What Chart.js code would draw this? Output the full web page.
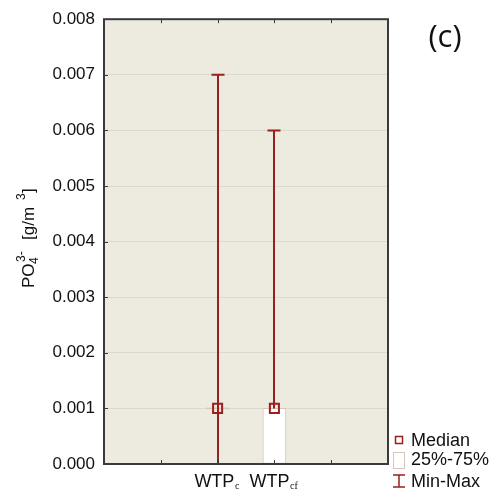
<!DOCTYPE html>
<html>
<head>
<meta charset="utf-8">
<script src="https://cdn.jsdelivr.net/npm/chart.js@4.4.1/dist/chart.umd.min.js"></script>
<style>
  html, body { margin: 0; padding: 0; background: #ffffff; }
  #wrap { width: 496px; height: 494px; }
</style>
</head>
<body>
<div id="wrap"><canvas id="boxChart"></canvas></div>
<script>
// Data
const categories = ['WTPc', 'WTPcf'];
const labelBase = ['WTP', 'WTP'];
const labelSub = ['c', 'cf'];
const positions = [2, 3];            // slot on the x axis (0..5)
const minValues = [0.000, 0.000];
const q1Values = [0.001, 0.000];
const medianValues = [0.001, 0.001];
const q3Values = [0.001, 0.001];
const maxValues = [0.007, 0.006];
const yTicks = [0, 0.001, 0.002, 0.003, 0.004, 0.005, 0.006, 0.007, 0.008];

const darkRed = '#9a1f1f';
const boxEdge = '#dcc3bb';
const panelBg = '#edeadf';
const sans = '"Liberation Sans", Arial, sans-serif';

// Draws plot background, whiskers, frame, ticks, labels and legend
const decorations = {
    id: 'decorations',
    beforeDraw(chart) {
        const { ctx, chartArea: a } = chart;
        ctx.save();
        ctx.fillStyle = panelBg;
        ctx.fillRect(a.left, a.top, a.right - a.left, a.bottom - a.top);
        ctx.restore();
    },
    afterDatasetDraw(chart, args) {
        if (args.index !== 1) return; // after the boxes, before the medians
        const { ctx } = chart;
        const x = chart.scales.x, y = chart.scales.y;
        ctx.save();
        positions.forEach((p, i) => {
            const px = Math.round(x.getPixelForValue(p));
            // flat box (q1 == q3) shows as a line
            if (q1Values[i] === q3Values[i]) {
                ctx.strokeStyle = boxEdge;
                ctx.lineWidth = 1.5;
                ctx.beginPath();
                ctx.moveTo(px - 12, y.getPixelForValue(q1Values[i]));
                ctx.lineTo(px + 12, y.getPixelForValue(q1Values[i]));
                ctx.stroke();
            }
            ctx.strokeStyle = darkRed;
            ctx.lineWidth = 2;
            ctx.beginPath();
            ctx.moveTo(px, y.getPixelForValue(q3Values[i]));
            ctx.lineTo(px, y.getPixelForValue(maxValues[i]));
            if (minValues[i] < q1Values[i]) {
                ctx.moveTo(px, y.getPixelForValue(q1Values[i]));
                ctx.lineTo(px, y.getPixelForValue(minValues[i]));
            }
            ctx.stroke();
            // caps
            ctx.beginPath();
            ctx.moveTo(px - 6.5, y.getPixelForValue(maxValues[i]));
            ctx.lineTo(px + 6.5, y.getPixelForValue(maxValues[i]));
            ctx.moveTo(px - 6.5, y.getPixelForValue(minValues[i]));
            ctx.lineTo(px + 6.5, y.getPixelForValue(minValues[i]));
            ctx.stroke();
        });
        ctx.restore();
    },
    afterDraw(chart) {
        const { ctx, chartArea: a } = chart;
        const x = chart.scales.x, y = chart.scales.y;
        ctx.save();
        // frame
        ctx.strokeStyle = '#3a3a3a';
        ctx.lineWidth = 2;
        ctx.strokeRect(a.left, a.top, a.right - a.left, a.bottom - a.top);
        // inward ticks
        ctx.lineWidth = 1;
        ctx.beginPath();
        yTicks.forEach(v => {
            const py = Math.round(y.getPixelForValue(v)) + 0.5;
            ctx.moveTo(a.left, py);
            ctx.lineTo(a.left + 4, py);
        });
        [1, 2, 3, 4].forEach(v => {
            const px = Math.round(x.getPixelForValue(v)) + 0.5;
            ctx.moveTo(px, a.top);
            ctx.lineTo(px, a.top + 4);
            ctx.moveTo(px, a.bottom);
            ctx.lineTo(px, a.bottom - 4);
        });
        ctx.stroke();

        // x category labels with subscripts
        ctx.fillStyle = '#111';
        ctx.textBaseline = 'alphabetic';
        ctx.textAlign = 'left';
        const subFont = '10px "Liberation Serif", "Times New Roman", serif';
        positions.forEach((p, i) => {
            const px = x.getPixelForValue(p);
            ctx.font = '18px ' + sans;
            const wb = ctx.measureText(labelBase[i]).width;
            ctx.font = subFont;
            const ws = ctx.measureText(labelSub[i]).width;
            const x0 = px - (wb + ws) / 2 - 1;
            ctx.font = '18px ' + sans;
            ctx.fillText(labelBase[i], x0, 487);
            ctx.font = subFont;
            ctx.fillText(labelSub[i], x0 + wb + 0.5, 489);
        });

        // y axis title, rotated: PO4^3- [g/m^3]; offsets measured along the text
        const parts = [
            { t: 'PO', f: '17px', at: 0, dy: 0 },
            { t: '4', f: '12px', at: 24, dy: 4 },
            { t: '3-', f: '12px', at: 26, dy: -9 },
            { t: '[g/m', f: '17px', at: 48, dy: 0 },
            { t: '3', f: '12px', at: 88, dy: -9 },
            { t: ']', f: '17px', at: 95, dy: 0 }
        ];
        ctx.translate(34, 288);
        ctx.rotate(-Math.PI / 2);
        parts.forEach(pt => {
            ctx.font = pt.f + ' ' + sans;
            ctx.fillText(pt.t, pt.at, pt.dy);
        });
        ctx.setTransform(1, 0, 0, 1, 0, 0);

        // legend
        ctx.font = '18px ' + sans;
        ctx.textBaseline = 'middle';
        ctx.fillStyle = '#111';
        ctx.strokeStyle = darkRed;
        ctx.lineWidth = 1.5;
        ctx.strokeRect(395.5, 436.5, 7, 7);
        ctx.fillText('Median', 411, 441);
        ctx.fillStyle = '#ffffff';
        ctx.fillRect(393, 452, 11, 16);
        ctx.strokeStyle = boxEdge;
        ctx.lineWidth = 1;
        ctx.strokeRect(393.5, 452.5, 11, 16);
        ctx.fillStyle = '#111';
        ctx.fillText('25%-75%', 411, 460);
        ctx.strokeStyle = darkRed;
        ctx.lineWidth = 1.5;
        ctx.beginPath();
        ctx.moveTo(393, 475); ctx.lineTo(405, 475);
        ctx.moveTo(399, 475); ctx.lineTo(399, 487);
        ctx.moveTo(393, 487); ctx.lineTo(405, 487);
        ctx.stroke();
        ctx.fillText('Min-Max', 411, 482);

        // panel letter
        ctx.font = '31px "Open Sans", "Noto Sans", sans-serif';
        ctx.textAlign = 'center';
        ctx.fillText('(c)', 445, 38);
        ctx.restore();
    }
};

const ctx = document.getElementById('boxChart').getContext('2d');

new Chart(ctx, {
    type: 'bar',
    data: {
        datasets: [
            {
                type: 'line',
                label: 'Median',
                data: positions.map((p, i) => ({ x: p, y: medianValues[i] })),
                showLine: false,
                pointStyle: 'rect',
                pointRadius: 6.4,
                pointHoverRadius: 6.4,
                pointBorderWidth: 2,
                pointBorderColor: darkRed,
                pointBackgroundColor: 'rgba(0,0,0,0)'
            },
            {
                type: 'bar',
                label: '25%-75%',
                data: positions.map((p, i) => ({ x: p, y: [q1Values[i], q3Values[i]] })),
                backgroundColor: '#ffffff',
                borderColor: boxEdge,
                borderWidth: 1,
                borderSkipped: false,
                barThickness: 23,
                grouped: false
            }
        ]
    },
    options: {
        responsive: true,
        maintainAspectRatio: false,
        animation: false,
        layout: { padding: { left: 0, top: 18, right: 108, bottom: 30 } },
        plugins: {
            legend: { display: false },
            tooltip: { enabled: false }
        },
        scales: {
            x: {
                type: 'linear',
                min: 0,
                max: 5,
                offset: false,
                ticks: { display: false, stepSize: 1 },
                grid: { display: false, offset: false },
                border: { display: false },
                afterFit(scale) { scale.height = 0; }
            },
            y: {
                min: 0,
                max: 0.008,
                afterBuildTicks(scale) { scale.ticks = yTicks.map(v => ({ value: v })); },
                ticks: {
                    padding: 9,
                    color: '#111',
                    font: { family: sans, size: 17 },
                    callback: v => v.toFixed(3)
                },
                grid: { color: '#dcd9ce', lineWidth: 1, drawTicks: false },
                border: { display: false },
                afterFit(scale) { scale.width = 104; }
            }
        }
    },
    plugins: [decorations]
});
</script>
</body>
</html>
